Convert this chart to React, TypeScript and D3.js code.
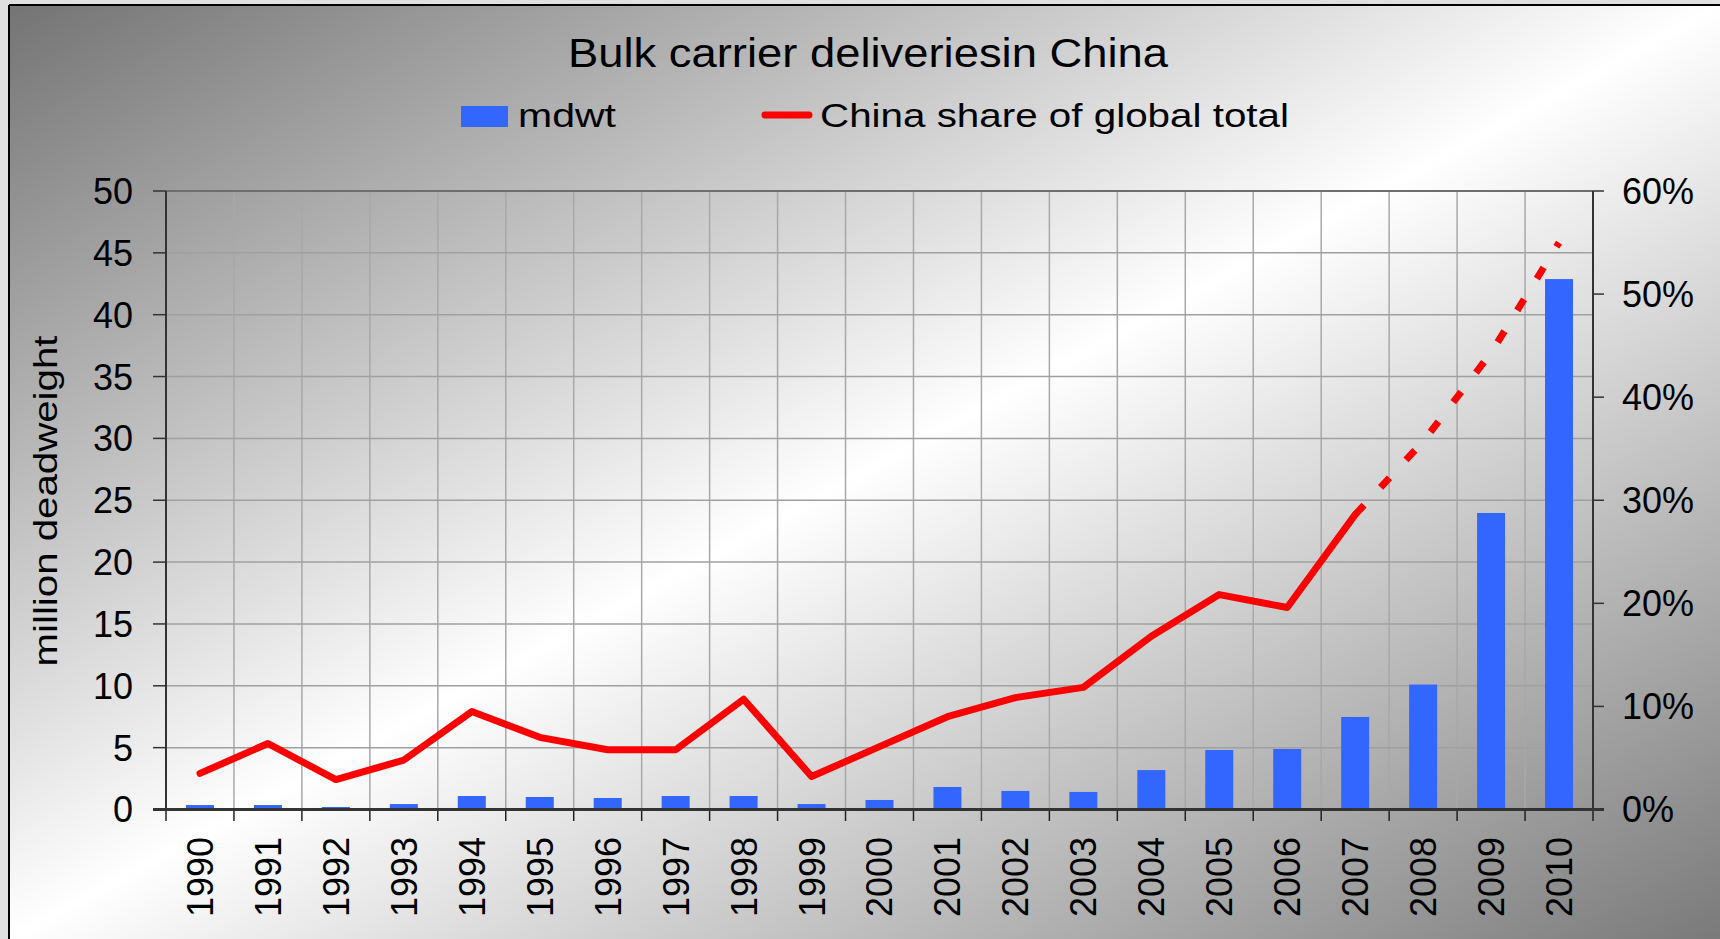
import React from "react";
import * as d3 from "d3";

const years = ["1990","1991","1992","1993","1994","1995","1996","1997","1998","1999","2000","2001","2002","2003","2004","2005","2006","2007","2008","2009","2010"];
const mdwt = [0.36,0.36,0.2,0.44,1.09,1.01,0.93,1.09,1.09,0.44,0.77,1.82,1.5,1.42,3.19,4.81,4.89,7.48,10.1,23.97,42.88];
const shareActualYears = years.slice(0, 18);
const shareActual = [3.5,6.4,2.9,4.8,9.5,7.0,5.8,5.8,10.7,3.2,6.1,9.0,10.85,11.85,16.8,20.85,19.6,28.6];
const shareProjYears = ["2007","2008","2009","2010"];
const shareProj = [28.6,35.7,44.3,55.0];
const leftTicks = [0,5,10,15,20,25,30,35,40,45,50];
const rightTicks = [0,10,20,30,40,50,60];

const W = 1720, H = 939;
const L = 166, R = 1593, T = 191, B = 809.5;
const FONT = "'Liberation Sans', Arial, sans-serif";

export default function App() {
  const x = d3.scaleBand<string>().domain(years).range([L, R]).padding(0);
  const yL = d3.scaleLinear().domain([0, 50]).range([B, T]);
  const yR = d3.scaleLinear().domain([0, 60]).range([B, T]);
  const bw = x.bandwidth();
  const barW = 28;
  const cx = (y: string) => (x(y) as number) + bw / 2;
  const line = d3.line<[string, number]>().x(d => cx(d[0])).y(d => yR(d[1]));
  const solid = line(shareActualYears.map((y, i) => [y, shareActual[i]] as [string, number]));
  const dashed = line(shareProjYears.map((y, i) => [y, shareProj[i]] as [string, number]));
  const boundaries = d3.range(years.length + 1).map(i => L + i * bw);

  return (
    <svg width={W} height={H} style={{ position: "absolute", left: 0, top: 0, display: "block" }} fontFamily={FONT}>
      <defs>
        <linearGradient id="bg" x1="0" y1="0" x2="1" y2="1">
          <stop offset="0" stopColor="#747474" />
          <stop offset="0.5" stopColor="#ffffff" />
          <stop offset="1" stopColor="#7a7a7a" />
        </linearGradient>
      </defs>
      <rect x={0} y={0} width={W} height={H} fill="#e0e0e0" />
      <rect x={9} y={5} width={W - 9} height={H - 5} fill="url(#bg)" />
      <line x1={9} y1={5} x2={W} y2={5} stroke="#000" strokeWidth={2} />
      <line x1={9} y1={5} x2={9} y2={H} stroke="#000" strokeWidth={2} />

      {/* title */}
      <text x={868} y={67} fontSize={41} textAnchor="middle" textLength={600} lengthAdjust="spacingAndGlyphs">Bulk carrier deliveriesin China</text>

      {/* legend */}
      <rect x={461} y={106} width={47} height={21} fill="#3366ff" />
      <text x={518} y={127} fontSize={34} textLength={98} lengthAdjust="spacingAndGlyphs">mdwt</text>
      <line x1={765} y1={115} x2={809} y2={115} stroke="#ff0000" strokeWidth={7} strokeLinecap="round" />
      <text x={820} y={127} fontSize={34} textLength={469} lengthAdjust="spacingAndGlyphs">China share of global total</text>

      {/* vertical grid */}
      {boundaries.slice(1, -1).map((bx, i) => (
        <line key={"vg" + i} x1={bx} y1={T} x2={bx} y2={B} stroke="#a8a8a8" strokeWidth={1.5} />
      ))}
      {/* horizontal grid */}
      {leftTicks.slice(1).map(t => (
        <line key={"hg" + t} x1={L} y1={yL(t)} x2={R} y2={yL(t)} stroke={t === 50 ? "#6e6e6e" : "#a0a0a0"} strokeWidth={t === 50 ? 2 : 1.5} />
      ))}

      {/* bars */}
      {years.map((y, i) => (
        <rect key={"b" + y} x={cx(y) - barW / 2} y={yL(mdwt[i])} width={barW} height={B - yL(mdwt[i])} fill="#3366ff" />
      ))}

      {/* lines */}
      <path d={solid || ""} fill="none" stroke="#ff0000" strokeWidth={7} strokeLinejoin="round" strokeLinecap="round" />
      <path d={dashed || ""} fill="none" stroke="#ff0000" strokeWidth={7} strokeDasharray="13 24.35" strokeLinecap="butt" />

      {/* axes */}
      <line x1={L} y1={T} x2={L} y2={B} stroke="#333" strokeWidth={2} />
      <line x1={R} y1={T} x2={R} y2={B} stroke="#333" strokeWidth={2} />
      {leftTicks.map(t => (
        <line key={"lt" + t} x1={153} y1={yL(t)} x2={L} y2={yL(t)} stroke="#333" strokeWidth={1.5} />
      ))}
      {rightTicks.map(t => (
        <line key={"rt" + t} x1={R} y1={yR(t)} x2={1604} y2={yR(t)} stroke="#333" strokeWidth={1.5} />
      ))}
      {boundaries.map((bx, i) => (
        <line key={"xt" + i} x1={bx} y1={B} x2={bx} y2={821} stroke="#222" strokeWidth={1.5} />
      ))}
      <line x1={153} y1={B} x2={1604} y2={B} stroke="#333" strokeWidth={3} />

      {/* tick labels */}
      {leftTicks.map(t => (
        <text key={"ll" + t} x={133} y={yL(t)} dy="0.36em" fontSize={36} textAnchor="end">{t}</text>
      ))}
      {rightTicks.map(t => (
        <text key={"rl" + t} x={1622} y={yR(t)} dy="0.36em" fontSize={36} textAnchor="start">{t + "%"}</text>
      ))}
      {years.map(y => (
        <text key={"xl" + y} transform={`translate(${cx(y)},837) rotate(-90)`} dy="0.36em" fontSize={36} textAnchor="end">{y}</text>
      ))}

      {/* y axis title */}
      <text transform="translate(45,501) rotate(-90)" dy="0.36em" fontSize={33} textAnchor="middle" textLength={331} lengthAdjust="spacingAndGlyphs">million deadweight</text>
    </svg>
  );
}
